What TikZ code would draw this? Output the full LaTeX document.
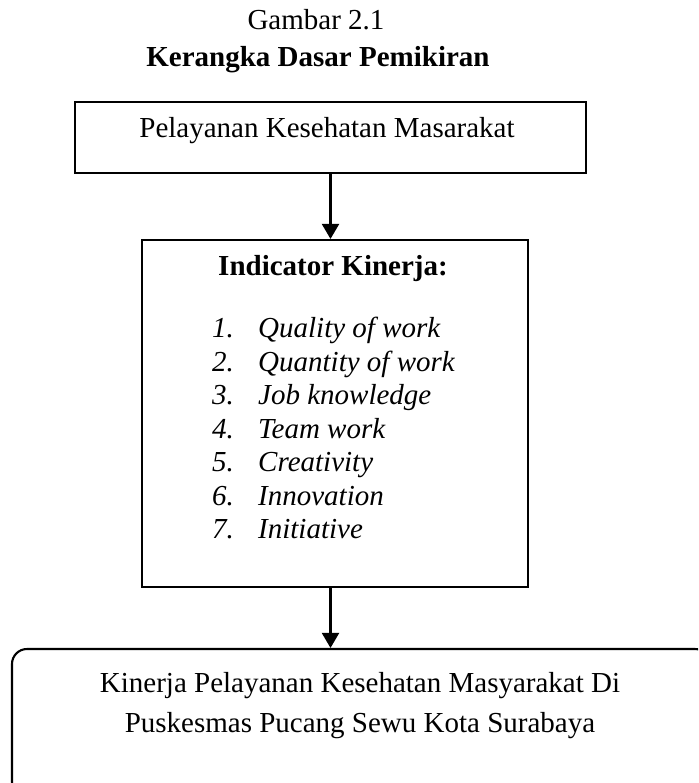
\documentclass[tikz,border=0pt]{standalone}
\usepackage{fontspec}
\setmainfont{Liberation Serif}
\usetikzlibrary{arrows.meta}

\tikzset{
    box/.style={draw, line width=2.1pt, inner sep=0pt},
    conn/.style={line width=2.1pt, -{Triangle[width=17pt,length=15pt]}},
    txt/.style={inner sep=0pt, anchor=base, font=\fontsize{29}{34}\selectfont},
    item/.style={txt, anchor=base west}
}

\begin{document}
\begin{tikzpicture}[x=1pt,y=-1pt]
    % Page frame
    \useasboundingbox (0,0) rectangle (698,783);
    \clip (0,0) rectangle (698,783);

    % Title
    \node[txt] (gambar) at (316,30) {Gambar 2.1};
    \node[txt, font=\fontsize{29}{34}\selectfont\bfseries] (judul) at (318,67) {Kerangka Dasar Pemikiran};

    % Top box
    \node[box, minimum width=511pt, minimum height=71pt] (pel) at (330.5,137.5) {};
    \node[txt] (pelText) at (327,138) {Pelayanan Kesehatan Masarakat};

    % Middle box with the indicators
    \node[box, minimum width=386pt, minimum height=347pt] (kin) at (335,413.5) {};
    \node[txt, font=\fontsize{29}{34}\selectfont\bfseries] (kinTitle) at (333,276) {Indicator Kinerja:};
    \foreach \i/\t in {1/Quality of work, 2/Quantity of work, 3/Job knowledge,
                       4/Team work, 5/Creativity, 6/Innovation, 7/Initiative} {
        \node[item] (num\i) at (212,{337.5+33.5*(\i-1)}) {\textit{\i.}};
        \node[item] (ind\i) at (258,{337.5+33.5*(\i-1)}) {\textit{\t}};
    }

    % Bottom box (runs past the page edge)
    \node[box, rounded corners=15pt, minimum width=698pt, minimum height=148pt] (hasil) at (361,723) {};
    \node[txt] (hasil1) at (360,692) {Kinerja Pelayanan Kesehatan Masyarakat Di};
    \node[txt] (hasil2) at (360,732) {Puskesmas Pucang Sewu Kota Surabaya};

    % Arrows
    \draw[conn] (pel.south) -- (pel.south |- kin.north);
    \draw[conn] (pel.south |- kin.south) -- (pel.south |- hasil.north);
\end{tikzpicture}
\end{document}
